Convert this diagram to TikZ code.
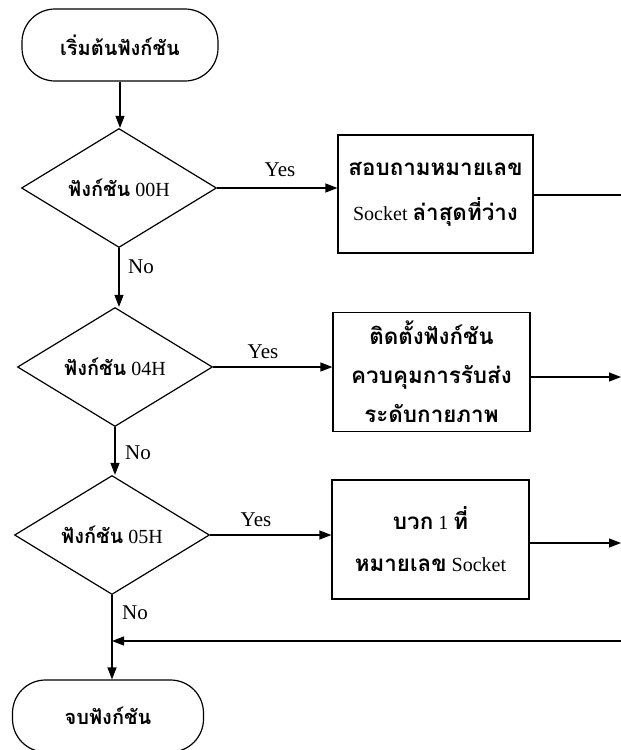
\documentclass[tikz,border=0pt]{standalone}
\usepackage{fontspec}
\setmainfont{Liberation Serif}
\newfontfamily\thai[Script=Thai]{Loma}
\newfontfamily\thaibig[Script=Thai,Scale=1.12]{Loma}
\usetikzlibrary{shapes.geometric,arrows.meta}
\begin{document}
\begin{tikzpicture}[x=1pt,y=-1pt,
  every node/.style={font=\fontsize{20}{24}\selectfont},
  term/.style={draw, rectangle, rounded corners=33pt, minimum width=196pt, minimum height=72pt, inner sep=0pt, line width=1.2pt},
  dec/.style={draw, diamond, aspect=1.64, minimum width=195pt, minimum height=119pt, inner sep=0pt, line width=1.2pt},
  proc/.style={draw, rectangle, minimum width=197pt, minimum height=119pt, inner sep=0pt, align=center, line width=1.2pt},
  arr/.style={-{Triangle[length=12pt,width=9pt]}, line width=1.2pt},
  ln/.style={line width=1.2pt},
  lbl/.style={font=\fontsize{21}{24}\selectfont, inner sep=0pt}]
\useasboundingbox (0,0) rectangle (621,750);
\fill[white] (0,0) rectangle (621,750);

\node[term] (start) at (120,45) {\thai\bfseries เริ่มต้นฟังก์ชัน};
\node[dec] (d1) at (119,188) {{\thai\bfseries ฟังก์ชัน} 00H};
\node[dec] (d2) at (115,367) {{\thai\bfseries ฟังก์ชัน} 04H};
\node[dec] (d3) at (112,535) {{\thai\bfseries ฟังก์ชัน} 05H};
\node[term, minimum width=191pt] (end) at (108,716) {\thai\bfseries จบฟังก์ชัน};

\node[proc, minimum width=195pt, minimum height=118pt, font=\fontsize{20}{45}\selectfont] (b1) at (435.5,194)
  {{\thaibig\bfseries สอบถามหมายเลข}\\Socket {\thaibig\bfseries ล่าสุดที่ว่าง}};
\node[proc, font=\fontsize{20}{39}\selectfont] (b2) at (431.5,372)
  {{\thaibig\bfseries ติดตั้งฟังก์ชัน}\\{\thaibig\bfseries ควบคุมการรับส่ง}\\{\thaibig\bfseries ระดับกายภาพ}};
\node[proc, font=\fontsize{20}{42}\selectfont] (b3) at (430.5,539.5)
  {{\thaibig\bfseries บวก} 1 {\thaibig\bfseries ที่}\\{\thaibig\bfseries หมายเลข} Socket};

\node[lbl] (y1) at (280,170) {Yes};
\node[lbl] (y2) at (263,352) {Yes};
\node[lbl] (y3) at (256,520) {Yes};
\node[lbl] (n1) at (141,267) {No};
\node[lbl] (n2) at (138,453) {No};
\node[lbl] (n3) at (135,613) {No};

\coordinate (r1) at (621,195);
\coordinate (r2) at (621,377);
\coordinate (r3) at (621,543);
\coordinate (r4) at (621,641);
\coordinate (j) at (d3.south |- r4);

\draw[arr] (start.south) -- (start.south |- d1.north);
\draw[arr] (d1.south) -- (d1.south |- d2.north);
\draw[arr] (d2.south) -- (d2.south |- d3.north);
\draw[arr] (d3.south) -- (d3.south |- end.north);

\draw[arr] (d1.east) -- (d1.east -| b1.west);
\draw[arr] (d2.east) -- (d2.east -| b2.west);
\draw[arr] (d3.east) -- (d3.east -| b3.west);

\draw[ln] (b1.east |- r1) -- (r1);
\draw[arr] (b2.east |- r2) -- (r2);
\draw[arr] (b3.east |- r3) -- (r3);
\draw[arr] (r4) -- (j);
\end{tikzpicture}
\end{document}
